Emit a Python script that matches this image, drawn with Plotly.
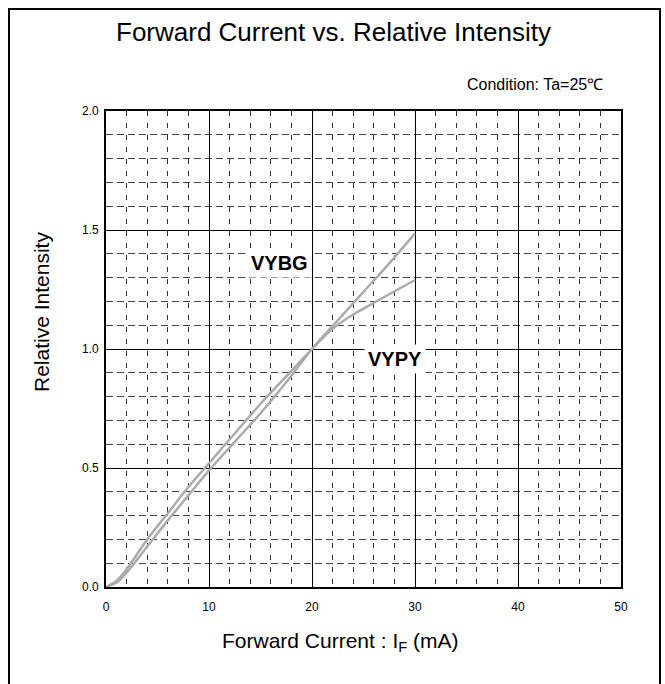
import plotly.graph_objects as go

# Data
current_vypy = [0, 1, 2, 4, 6, 8, 10, 12.5, 15, 17.5, 20, 22, 24, 25, 27.5, 30]
intensity_vypy = [0, 0.025, 0.075, 0.2, 0.31, 0.42, 0.52, 0.645, 0.77, 0.885, 1.0, 1.085, 1.145, 1.17, 1.23, 1.29]

current_vybg = [0, 1, 2, 4, 6, 8, 10, 12.5, 15, 17.5, 20, 22.5, 25, 27.5, 30]
intensity_vybg = [0, 0.018, 0.06, 0.17, 0.28, 0.385, 0.49, 0.61, 0.73, 0.86, 1.0, 1.12, 1.24, 1.36, 1.486]

x_ticks = [0, 10, 20, 30, 40, 50]
y_ticks = [0.0, 0.5, 1.0, 1.5, 2.0]

W, H = 665, 684
L, R, T, B = 106, 44, 111, 97
pw, ph = W - L - R, H - T - B

def px(xp):
    return (xp - L) / pw

def py(yp):
    return (H - B - yp) / ph

FONT = "Liberation Sans, Arial, Helvetica, sans-serif"
curve_color = "#ababab"

fig = go.Figure()
fig.add_trace(go.Scatter(x=current_vybg, y=intensity_vybg, mode="lines",
                         line=dict(color=curve_color, width=2.5, shape="spline"),
                         name="VYBG", showlegend=False, hoverinfo="skip"))
fig.add_trace(go.Scatter(x=current_vypy, y=intensity_vypy, mode="lines",
                         line=dict(color=curve_color, width=2.5, shape="spline"),
                         name="VYPY", showlegend=False, hoverinfo="skip"))

fig.update_layout(
    width=W, height=H,
    margin=dict(l=L, r=R, t=T, b=B, autoexpand=False),
    paper_bgcolor="white", plot_bgcolor="white",
    font=dict(family=FONT, color="black"),
    showlegend=False,
)

fig.update_xaxes(
    range=[0, 50], tickvals=x_ticks, ticktext=[str(v) for v in x_ticks],
    showgrid=True, gridcolor="black", gridwidth=1.3,
    showline=True, mirror=True, linecolor="black", linewidth=1.6,
    zeroline=False, ticks="", tickfont=dict(size=12, family=FONT),
    ticklabelstandoff=8,
    minor=dict(dtick=2, showgrid=True, gridcolor="#333333", gridwidth=1, griddash="5px,7px"),
)
fig.update_yaxes(
    range=[0, 2], tickvals=y_ticks, ticktext=[f"{v:.1f}" for v in y_ticks],
    showgrid=True, gridcolor="black", gridwidth=1.3,
    showline=True, mirror=True, linecolor="black", linewidth=1.6,
    zeroline=False, ticks="", tickfont=dict(size=12, family=FONT),
    ticklabelstandoff=3,
    minor=dict(dtick=0.1, showgrid=True, gridcolor="#444444", gridwidth=1, griddash="7px,4px"),
)

annotations = [
    dict(text="Forward Current vs. Relative Intensity", x=px(333), y=py(32),
         xref="paper", yref="paper", showarrow=False, font=dict(size=26, family=FONT),
         xanchor="center", yanchor="middle"),
    dict(text="Condition: Ta=25℃", x=px(605), y=py(85),
         xref="paper", yref="paper", showarrow=False, font=dict(size=16, family=FONT),
         xanchor="right", yanchor="middle"),
    dict(text="Forward Current : I<sub>F</sub> (mA)", x=px(340), y=py(642),
         xref="paper", yref="paper", showarrow=False, font=dict(size=21, family=FONT),
         xanchor="center", yanchor="middle"),
    dict(text="Relative Intensity", x=px(41), y=py(312), textangle=-90,
         xref="paper", yref="paper", showarrow=False, font=dict(size=21, family=FONT),
         xanchor="center", yanchor="middle"),
    dict(text="<b>VYBG</b>", x=16.8, y=1.36, xref="x", yref="y", showarrow=False,
         font=dict(size=20, family=FONT), bgcolor="white", borderpad=3,
         xanchor="center", yanchor="middle"),
    dict(text="<b>VYPY</b>", x=28.1, y=0.96, xref="x", yref="y", showarrow=False,
         font=dict(size=20, family=FONT), bgcolor="white", borderpad=3,
         xanchor="center", yanchor="middle"),
]
fig.update_layout(annotations=annotations)

fig.add_shape(type="rect", xref="paper", yref="paper",
              x0=px(9), x1=px(660), y0=py(690), y1=py(9),
              line=dict(color="black", width=2), fillcolor="rgba(0,0,0,0)", layer="above")

fig.write_html("out.html", config={"displayModeBar": False},
               post_script="document.body.style.margin='0';document.body.style.overflow='hidden';")
